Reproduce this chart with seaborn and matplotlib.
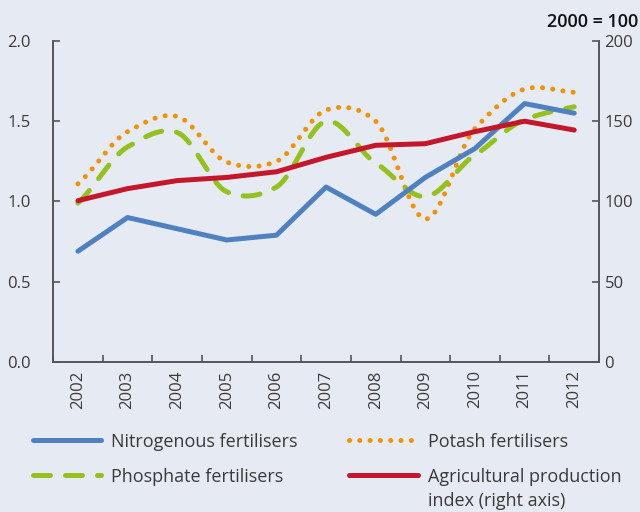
import numpy as np
import pandas as pd
import matplotlib
matplotlib.use("Agg")
import matplotlib.pyplot as plt
import seaborn as sns
from matplotlib.lines import Line2D

years = ["2002", "2003", "2004", "2005", "2006", "2007", "2008", "2009", "2010", "2011", "2012"]
nitrogenous = [0.69, 0.90, 0.83, 0.76, 0.79, 1.09, 0.92, 1.15, 1.33, 1.61, 1.55]
potash = [1.11, 1.435, 1.53, 1.245, 1.25, 1.57, 1.50, 0.89, 1.455, 1.70, 1.68]
phosphate = [0.99, 1.34, 1.43, 1.06, 1.09, 1.50, 1.24, 1.03, 1.29, 1.51, 1.59]
agri_index = [100.5, 108, 113, 115, 118.5, 127.5, 135, 136, 143.5, 150, 144.5]

BG = "#e6ebf3"
BLUE = "#4f81c0"
ORANGE = "#f39200"
GREEN = "#95c11f"
RED = "#c4172b"
GREY = "#555555"
TXT = "#3a3a3a"

sns.set_theme(style="white", rc={"axes.facecolor": BG, "figure.facecolor": BG})
plt.rcParams["font.family"] = ["Open Sans", "DejaVu Sans"]


def smooth(xs, ys, n=20, c=0.4):
    """Cardinal (Hermite) spline through the data points (rendering of a smoothed line)."""
    xs = np.asarray(xs, float)
    ys = np.asarray(ys, float)
    m = np.zeros_like(ys)
    m[1:-1] = c * (ys[2:] - ys[:-2])
    m[0] = 2 * c * (ys[1] - ys[0])
    m[-1] = 2 * c * (ys[-1] - ys[-2])
    t = np.linspace(0, 1, n, endpoint=False)
    h00 = 2 * t ** 3 - 3 * t ** 2 + 1
    h10 = t ** 3 - 2 * t ** 2 + t
    h01 = -2 * t ** 3 + 3 * t ** 2
    h11 = t ** 3 - t ** 2
    ox, oy = [], []
    for i in range(len(xs) - 1):
        ox.append(xs[i] + t * (xs[i + 1] - xs[i]))
        oy.append(h00 * ys[i] + h10 * m[i] + h01 * ys[i + 1] + h11 * m[i + 1])
    ox.append([xs[-1]])
    oy.append([ys[-1]])
    return np.concatenate(ox), np.concatenate(oy)


DOTS = (0, (0.01, 2.05))
DASH = (0, (3.4, 3.0))
LW = 3.6

x = np.arange(len(years))
fig = plt.figure(figsize=(6.4, 5.12), dpi=100)
ax = fig.add_axes([0.083, 0.293, 0.853, 0.627])
ax2 = ax.twinx()

df = pd.DataFrame({"x": x, "nitro": nitrogenous, "agri": agri_index})
sx, sy = smooth(x, potash)
df_pot = pd.DataFrame({"x": sx, "y": sy})
hx, hy = smooth(x, phosphate)
df_pho = pd.DataFrame({"x": hx, "y": hy})

sns.lineplot(data=df, x="x", y="nitro", ax=ax, color=BLUE, lw=LW,
             solid_capstyle="round", legend=False, zorder=3)
ax.plot(df_pot["x"], df_pot["y"], color=ORANGE, lw=LW, linestyle=DOTS, dash_capstyle="round", zorder=2)
ax.plot(df_pho["x"], df_pho["y"], color=GREEN, lw=LW, linestyle=DASH, dash_capstyle="round", zorder=2)
sns.lineplot(data=df, x="x", y="agri", ax=ax2, color=RED, lw=LW, legend=False,
             solid_capstyle="round", zorder=4)

ax.set_xlim(-0.5, len(years) - 0.5)
ax.set_ylim(0, 2.0)
ax2.set_ylim(0, 200)
ax.set_yticks([0, 0.5, 1.0, 1.5, 2.0])
ax.set_yticklabels(["0.0", "0.5", "1.0", "1.5", "2.0"])
ax2.set_yticks([0, 50, 100, 150, 200])
ax2.set_yticklabels(["0", "50", "100", "150", "200"])
ax.set_xticks(x)
ax.set_xticklabels(years, rotation=90)
ax.set_xticks(np.arange(-0.5, len(years), 1.0), minor=True)
ax.set_xlabel("")
ax.set_ylabel("")
ax2.set_ylabel("")

for a in (ax, ax2):
    for s in a.spines.values():
        s.set_color(GREY)
        s.set_linewidth(1.2)
    a.spines["top"].set_visible(False)
ax.tick_params(axis="x", which="major", length=0, pad=6, labelsize=12, labelcolor=TXT)
ax.tick_params(axis="x", which="minor", direction="in", length=5, width=1.2, color=GREY, bottom=True)
ax.tick_params(axis="y", direction="in", length=5, width=1.2, color=GREY, left=True, pad=16,
               labelsize=12, labelcolor=TXT)
ax2.tick_params(axis="y", direction="in", length=5, width=1.2, color=GREY, right=True, pad=4,
                labelsize=12, labelcolor=TXT)

fig.text(0.997, 0.958, "2000 = 100", ha="right", va="center", fontsize=13, color="#111111",
         fontweight="semibold")

h_nit = Line2D([], [], color=BLUE, lw=LW, solid_capstyle="round")
h_pot = Line2D([], [], color=ORANGE, lw=LW, linestyle=DOTS, dash_capstyle="round")
h_pho = Line2D([], [], color=GREEN, lw=LW, linestyle=DASH, dash_capstyle="round")
h_agr = Line2D([], [], color=RED, lw=LW, solid_capstyle="round")
leg = fig.legend([h_nit, h_pho, h_pot, h_agr],
                 ["Nitrogenous fertilisers", "Phosphate fertilisers", "Potash fertilisers",
                  "Agricultural production"],
                 loc="upper left", bbox_to_anchor=(0.051, 0.155), ncol=2, frameon=False,
                 fontsize=13, handlelength=3.8, columnspacing=2.85, handletextpad=0.55,
                 labelspacing=0.95, labelcolor=TXT, borderpad=0, borderaxespad=0)

fig.canvas.draw()
renderer = fig.canvas.get_renderer()
t_agr = leg.get_texts()[3]
bb = t_agr.get_window_extent(renderer).transformed(fig.transFigure.inverted())
fig.text(bb.x0, bb.y0 - 24 / 512, "index (right axis)", ha="left", va="bottom",
         fontsize=13, color=TXT)

fig.savefig("out.png", dpi=100, facecolor=BG)
